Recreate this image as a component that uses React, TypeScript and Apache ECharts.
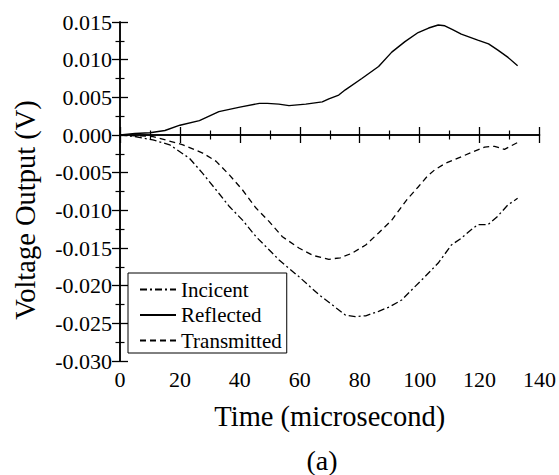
import React, { useEffect, useRef } from "react";
import * as echarts from "echarts";

// Incident (dash-dot)
const incidentTime = [0, 5, 11, 16.6, 23.2, 27.6, 32.1, 36.5, 40.9, 45.4, 50.9, 53.1, 59.7, 66.4, 71, 75.2, 78.5, 82, 86.3, 90, 94, 98, 101.8, 106.2, 110.6, 113.9, 116.5, 119.4, 122.8, 126, 129.4, 132.7];
const incidentVoltage = [0, -0.0002, -0.00066, -0.0013, -0.0031, -0.0051, -0.0073, -0.0095, -0.0113, -0.0135, -0.0157, -0.0166, -0.0188, -0.0212, -0.0226, -0.0239, -0.0241, -0.024, -0.0234, -0.0228, -0.0219, -0.0203, -0.0188, -0.017, -0.0146, -0.0137, -0.0128, -0.0119, -0.0119, -0.0108, -0.0093, -0.0084];

// Reflected (solid)
const reflectedTime = [0, 5, 10, 15, 20, 26.5, 33, 40, 46.5, 49.2, 53, 56.4, 62, 67.5, 69.7, 73, 75.2, 80.7, 86.3, 90.7, 95.1, 99.5, 103, 106.2, 108.4, 111, 113.9, 119.4, 123, 126, 129.5, 132.7];
const reflectedVoltage = [0, 0.0002, 0.0003, 0.0006, 0.0013, 0.0019, 0.0031, 0.0037, 0.0042, 0.0042, 0.0041, 0.0039, 0.0041, 0.0044, 0.0048, 0.0053, 0.006, 0.0075, 0.0091, 0.011, 0.0124, 0.0136, 0.0142, 0.0146, 0.0145, 0.014, 0.0134, 0.0126, 0.0121, 0.0113, 0.0103, 0.0092];

// Transmitted (dashed)
const transmittedTime = [0, 5, 11, 21, 27.6, 32.1, 36.5, 40.9, 45.4, 49.8, 54.2, 59.7, 64.5, 69.7, 73.5, 77.4, 82, 86.3, 90.7, 95.7, 99.5, 102.5, 105.1, 108.4, 115, 121.7, 125, 128.3, 132.7];
const transmittedVoltage = [0, -0.0001, -0.0002, -0.0013, -0.0024, -0.0035, -0.0053, -0.0073, -0.0097, -0.0115, -0.0135, -0.015, -0.016, -0.0165, -0.0163, -0.0157, -0.0146, -0.013, -0.0113, -0.0086, -0.0069, -0.0055, -0.0046, -0.0038, -0.0027, -0.0016, -0.0015, -0.0019, -0.001];

const seriesNames = ["Incicent", "Reflected", "Transmitted"];
const xTitle = "Time (microsecond)";
const yTitle = "Voltage Output (V)";
const panelLabel = "(a)";

const FONT = "Liberation Serif";

const pairs = (t: number[], v: number[]) => t.map((x, i) => [x, v[i]]);

export default function App() {
  const ref = useRef<HTMLDivElement>(null);

  useEffect(() => {
    document.body.style.margin = "0";
    if (!ref.current) return;
    const chart = echarts.init(ref.current, undefined, { renderer: "svg" });

    const axisLine = { show: true, lineStyle: { color: "#000", width: 1.5 } };
    const axisTick = { show: true, inside: true, length: 8, lineStyle: { color: "#000", width: 1.3 } };
    const minorTick = { show: true, splitNumber: 2, length: 4.5, lineStyle: { color: "#000", width: 1.2 } };

    chart.setOption({
      animation: false,
      backgroundColor: "#fff",
      textStyle: { fontFamily: FONT },
      grid: { left: 120, top: 22, right: 17, bottom: 114, containLabel: false },
      legend: {
        orient: "vertical",
        left: 128,
        top: 273,
        borderColor: "#000",
        borderWidth: 1,
        padding: [6, 5, 2, 11],
        itemWidth: 36,
        itemHeight: 21,
        itemGap: 4.5,
        itemStyle: { opacity: 0, color: "transparent", borderWidth: 0 },
        textStyle: { fontFamily: FONT, fontSize: 21, color: "#000", lineHeight: 21 },
        data: seriesNames,
      },
      xAxis: [
        {
          type: "value",
          position: "bottom",
          min: 0,
          max: 140,
          interval: 20,
          axisLine,
          axisTick,
          minorTick,
          splitLine: { show: false },
          axisLabel: { color: "#000", fontFamily: FONT, fontSize: 22, margin: 7 },
          name: xTitle,
          nameLocation: "middle",
          nameGap: 41,
          nameTextStyle: { color: "#000", fontFamily: FONT, fontSize: 28.5 },
        },
        {
          type: "value",
          position: "top",
          min: 0,
          max: 140,
          interval: 20,
          axisLine,
          axisTick,
          minorTick,
          splitLine: { show: false },
          axisLabel: { show: false },
        },
      ],
      yAxis: [
        {
          type: "value",
          position: "left",
          min: -0.03,
          max: 0.015,
          interval: 0.005,
          axisLine,
          axisTick,
          minorTick,
          splitLine: { show: false },
          axisLabel: {
            color: "#000",
            fontFamily: FONT,
            fontSize: 22,
            margin: 8,
            formatter: (v: number) => (Math.abs(v) < 1e-9 ? "0.000" : v.toFixed(3)),
          },
        },
        {
          type: "value",
          position: "right",
          min: -0.03,
          max: 0.015,
          interval: 0.005,
          axisLine,
          axisTick,
          minorTick,
          splitLine: { show: false },
          axisLabel: { show: false },
        },
      ],
      graphic: [
        {
          type: "text",
          x: 25,
          y: 210,
          rotation: Math.PI / 2,
          style: {
            text: yTitle,
            fontFamily: FONT,
            fontSize: 28.5,
            fill: "#000",
            align: "center",
            verticalAlign: "middle",
            textAlign: "center",
            textVerticalAlign: "middle",
          },
        },
        {
          type: "text",
          x: 322,
          y: 460,
          style: {
            text: panelLabel,
            fontFamily: FONT,
            fontSize: 28,
            fill: "#000",
            align: "center",
            verticalAlign: "middle",
            textAlign: "center",
            textVerticalAlign: "middle",
          },
        },
      ],
      series: [
        {
          name: seriesNames[0],
          type: "line",
          xAxisIndex: 0,
          yAxisIndex: 0,
          symbol: "none",
          showSymbol: false,
          data: pairs(incidentTime, incidentVoltage),
          lineStyle: { color: "#000", width: 1.3, type: [7, 3, 2, 3] },
          itemStyle: { color: "#000" },
        },
        {
          name: seriesNames[1],
          type: "line",
          xAxisIndex: 0,
          yAxisIndex: 0,
          symbol: "none",
          showSymbol: false,
          data: pairs(reflectedTime, reflectedVoltage),
          lineStyle: { color: "#000", width: 1.4, type: "solid" },
          itemStyle: { color: "#000" },
        },
        {
          name: seriesNames[2],
          type: "line",
          xAxisIndex: 0,
          yAxisIndex: 0,
          symbol: "none",
          showSymbol: false,
          data: pairs(transmittedTime, transmittedVoltage),
          lineStyle: { color: "#000", width: 1.3, type: [6, 4] },
          itemStyle: { color: "#000" },
        },
      ],
    });

    return () => chart.dispose();
  }, []);

  return <div ref={ref} style={{ width: 559, height: 475 }} />;
}
